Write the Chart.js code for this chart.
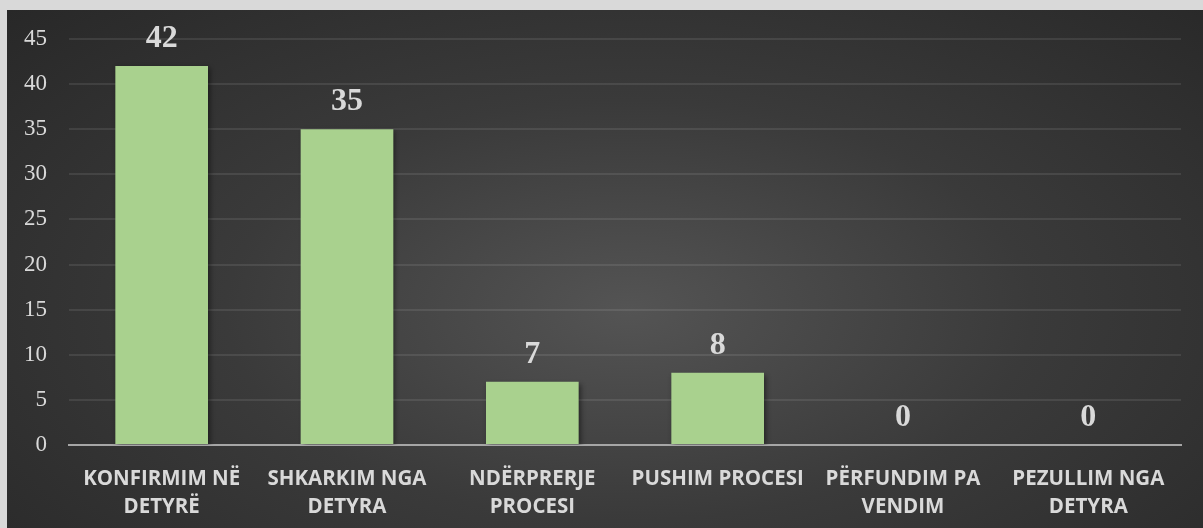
<!DOCTYPE html>
<html>
<head>
<meta charset="utf-8">
<script src="https://cdn.jsdelivr.net/npm/chart.js@4"></script>
<style>
  html, body { margin: 0; padding: 0; background: #d9d9d9; }
  #panel {
    position: absolute; left: 7px; top: 10px; width: 1196px; height: 518px;
    background: radial-gradient(ellipse 75% 90% at 52% 58%, #545454 0%, #3a3a3a 45%, #262626 100%);
  }
</style>
</head>
<body>
<div id="panel"><canvas id="myChart" width="1196" height="518"></canvas></div>
<script>
// categories (Albanian, two lines each)
const categories = [
    ['KONFIRMIM NË', 'DETYRË'],
    ['SHKARKIM NGA', 'DETYRA'],
    ['NDËRPRERJE', 'PROCESI'],
    ['PUSHIM PROCESI'],
    ['PËRFUNDIM PA', 'VENDIM'],
    ['PEZULLIM NGA', 'DETYRA']
];
const values = [42, 35, 7, 8, 0, 0];
const yTicks = [0, 5, 10, 15, 20, 25, 30, 35, 40, 45];

const textColor = '#d9d9d9';

// value labels above bars + soft bar shadow
const barExtras = {
    id: 'barExtras',
    beforeDatasetsDraw(chart) {
        const ctx = chart.ctx;
        ctx.save();
        ctx.shadowColor = 'rgba(0,0,0,0.45)';
        ctx.shadowBlur = 5;
        ctx.shadowOffsetX = 2;
        ctx.shadowOffsetY = 2;
    },
    afterDatasetsDraw(chart) {
        const ctx = chart.ctx;
        ctx.restore();
        ctx.save();
        ctx.fillStyle = textColor;
        ctx.font = 'bold 32px "Liberation Serif", "DejaVu Serif", serif';
        ctx.textAlign = 'center';
        ctx.textBaseline = 'alphabetic';
        chart.getDatasetMeta(0).data.forEach(function (bar, i) {
            ctx.fillText(String(values[i]), bar.x, bar.y - 19);
        });
        ctx.restore();
    }
};

const data = {
    labels: categories,
    datasets: [{
        data: values,
        backgroundColor: '#a9d18e',
        borderWidth: 0,
        barPercentage: 0.5,
        categoryPercentage: 1.0
    }]
};

const config = {
    type: 'bar',
    data: data,
    options: {
        responsive: false,
        animation: false,
        layout: { padding: { top: 29, right: 22, left: 0, bottom: 0 } },
        plugins: { legend: { display: false }, tooltip: { enabled: false } },
        scales: {
            x: {
                afterFit(scale) { scale.height = 83; },
                grid: { display: false, drawTicks: false },
                border: { display: true, color: '#a6a6a6', width: 2 },
                ticks: {
                    color: textColor,
                    padding: 20,
                    maxRotation: 0,
                    autoSkip: false,
                    font: { family: '"Open Sans", sans-serif', weight: 'bold', size: 20.5, lineHeight: '28px' }
                }
            },
            y: {
                min: 0,
                max: 45,
                afterBuildTicks(scale) {
                    scale.ticks = yTicks.map(function (v) { return { value: v }; });
                },
                afterFit(scale) {
                    scale.width = 62;
                    scale.paddingTop = 0;
                    scale.paddingBottom = 0;
                },
                grid: { color: 'rgba(255,255,255,0.09)', lineWidth: 2, drawTicks: false },
                border: { display: false },
                ticks: {
                    color: textColor,
                    padding: 22,
                    font: { family: '"Liberation Serif", serif', size: 23 }
                }
            }
        }
    },
    plugins: [barExtras]
};

const myChart = new Chart(document.getElementById('myChart'), config);
</script>
</body>
</html>
